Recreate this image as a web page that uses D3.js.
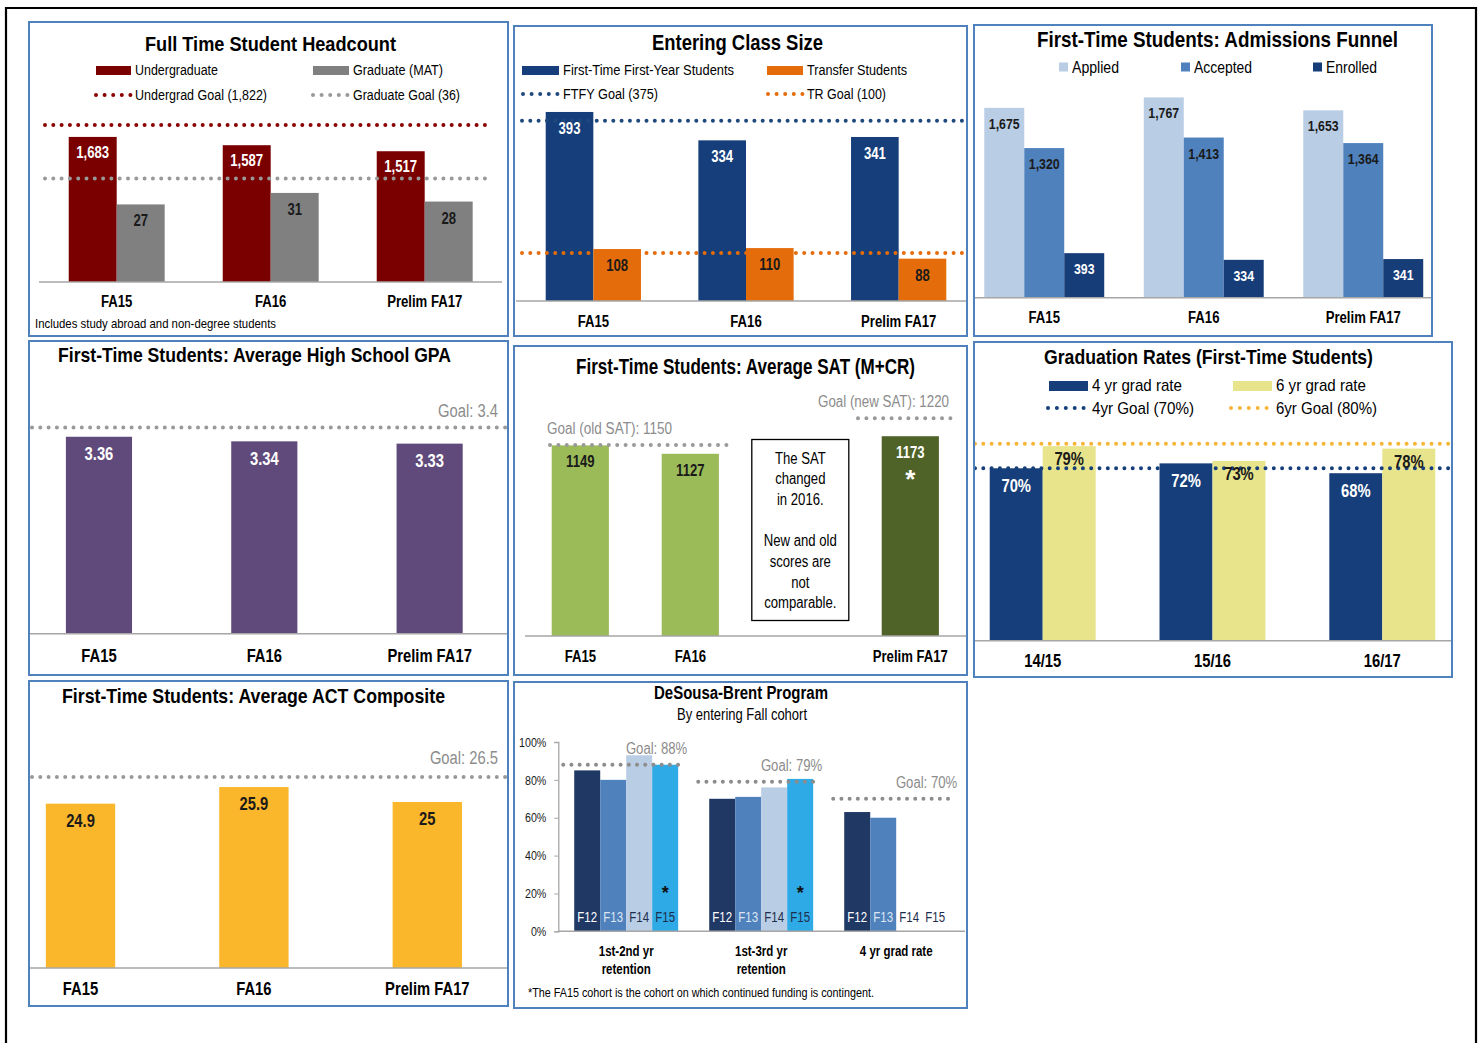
<!DOCTYPE html>
<html>
<head>
<meta charset="utf-8">
<script src="https://cdn.jsdelivr.net/npm/d3@7"></script>
<style>
  body { margin: 0; background: #fff; }
  svg text { font-family: 'Liberation Sans Narrow', 'Arial Narrow', 'Liberation Sans', sans-serif; }
</style>
</head>
<body>
<svg id="chart" width="1482" height="1043"></svg>
<script>
// ---- data ----
const fallCats = ['FA15', 'FA16', 'Prelim FA17'];

const undergrad = [1683, 1587, 1517];
const graduate = [27, 31, 28];
const undergradGoal = 1822;
const graduateGoal = 36;

const ftfy = [393, 334, 341];
const transfer = [108, 110, 88];
const ftfyGoal = 375;
const transferGoal = 100;

const applied = [1675, 1767, 1653];
const accepted = [1320, 1413, 1364];
const enrolled = [393, 334, 341];

const gpa = [3.36, 3.34, 3.33];
const gpaGoal = 3.4;

const satCats = ['FA15', 'FA16', '', 'Prelim FA17'];
const sat = [1149, 1127, null, 1173];
const satOldGoal = 1150;
const satNewGoal = 1220;
const satNote = ['The SAT', 'changed', 'in 2016.', '', 'New and old', 'scores are', 'not', 'comparable.'];

const gradCats = ['14/15', '15/16', '16/17'];
const grad4 = [70, 72, 68];
const grad6 = [79, 73, 78];
const grad4Goal = 70;
const grad6Goal = 80;

const act = [24.9, 25.9, 25];
const actGoal = 26.5;

const dbCats = ['1st-2nd yr retention', '1st-3rd yr retention', '4 yr grad rate'];
const dbCatLines = [['1st-2nd yr', 'retention'], ['1st-3rd yr', 'retention'], ['4 yr grad rate']];
const dbCohorts = ['F12', 'F13', 'F14', 'F15'];
const dbValues = [[85, 80, 93, 88], [70, 71, 76, 80.5], [63, 60, null, null]];
const dbGoals = [88, 79, 70];
const dbTicks = [0, 20, 40, 60, 80, 100];
const dbFlagged = 'F15';

// ---- helpers ----
const svg = d3.select('#chart');
const fmt = d3.format(',');

// no Arial Narrow here? then squeeze the Arial-metric fallback to narrow widths
const NARROW = (function () {
  const ctx = document.createElement('canvas').getContext('2d');
  ctx.font = "20px 'Liberation Sans Narrow', monospace";
  const a = ctx.measureText('Graduation Rates 1234').width;
  ctx.font = '20px monospace';
  const b = ctx.measureText('Graduation Rates 1234').width;
  return Math.abs(a - b) < 0.5 ? 0.82 : 1;
})();

function txt(p, s, x, y, o = {}) {
  const t = p.append('text')
    .attr('x', x).attr('y', y)
    .attr('font-size', o.size || 14)
    .attr('font-weight', o.weight || 'normal')
    .attr('fill', o.fill || '#000')
    .attr('text-anchor', o.anchor || 'start')
    .text(s);
  if (o.len) t.attr('textLength', o.len).attr('lengthAdjust', 'spacingAndGlyphs');
  return t;
}

function dots(p, x0, x1, y, color, gap = 8.3, w = 4) {
  p.append('line')
    .attr('x1', x0).attr('x2', x1).attr('y1', y).attr('y2', y)
    .attr('stroke', color).attr('stroke-width', w)
    .attr('stroke-linecap', 'round')
    .attr('stroke-dasharray', `0 ${gap}`);
}

function hline(p, x0, x1, y, color = '#a6a6a6', w = 1.5) {
  p.append('line')
    .attr('x1', x0).attr('x2', x1).attr('y1', y).attr('y2', y)
    .attr('stroke', color).attr('stroke-width', w);
}

function frame(x0, y0, x1, y1) {
  svg.append('rect')
    .attr('x', x0).attr('y', y0).attr('width', x1 - x0).attr('height', y1 - y0)
    .attr('fill', 'none').attr('stroke', '#4f81bd').attr('stroke-width', 2);
}

function band(cats, range, pad) {
  return d3.scaleBand().domain(cats).range(range).paddingInner(pad).paddingOuter(pad / 2);
}

// series: [{values, y, color, labelColor, off, fmt, size}]
function groupedBars(g, cats, x, series) {
  const sub = d3.scaleBand().domain(d3.range(series.length)).range([0, x.bandwidth()]);
  series.forEach((s, i) => {
    const rows = cats.map((c, j) => ({ c, v: s.values[j] })).filter(d => d.v != null);
    const base = s.y.range()[0];
    g.append('g').selectAll('rect').data(rows).join('rect')
      .attr('x', d => x(d.c) + sub(i))
      .attr('width', sub.bandwidth())
      .attr('y', d => s.y(d.v))
      .attr('height', d => base - s.y(d.v))
      .attr('fill', typeof s.color === 'function' ? d => s.color(d) : s.color);
    s.labelPos = rows.map(d => ({ ...d, cx: x(d.c) + sub(i) + sub.bandwidth() / 2 }));
  });
}

function barLabels(g, series) {
  series.forEach(s => {
    if (!s.labelColor) return;
    g.append('g').selectAll('text').data(s.labelPos).join('text')
      .attr('x', d => d.cx)
      .attr('y', d => s.y(d.v) + s.off)
      .attr('text-anchor', 'middle')
      .attr('font-size', s.size || 16)
      .attr('font-weight', 'bold')
      .attr('fill', typeof s.labelColor === 'function' ? d => s.labelColor(d) : s.labelColor)
      .text(d => (s.fmt || fmt)(d.v));
  });
}

function catAxis(g, x, y, size, labels) {
  const a = g.append('g').attr('transform', `translate(0,${y})`)
    .call(d3.axisBottom(x).tickSize(0).tickPadding(0).tickFormat(labels || (d => d)));
  a.select('.domain').remove();
  a.selectAll('text')
    .attr('y', 0).attr('dy', 0)
    .attr('font-size', size).attr('font-weight', 'bold').attr('fill', '#000');
}

// outer page frame
svg.append('path')
  .attr('d', 'M6,1043V8H1476V1043')
  .attr('fill', 'none').attr('stroke', '#000').attr('stroke-width', 2.2);

// ---- 1. Full Time Student Headcount ----
(function () {
  const g = svg.append('g');
  frame(29, 22, 508, 336);
  const red = '#7a0000', gray = '#808080';
  txt(g, 'Full Time Student Headcount', 145, 51, { size: 21, weight: 'bold', len: 251 });
  g.append('rect').attr('x', 96).attr('y', 66).attr('width', 35).attr('height', 9).attr('fill', red);
  txt(g, 'Undergraduate', 135, 75, { size: 14, len: 83 });
  g.append('rect').attr('x', 313).attr('y', 66).attr('width', 36).attr('height', 9).attr('fill', gray);
  txt(g, 'Graduate (MAT)', 353, 75, { size: 14, len: 90 });
  dots(g, 96, 131, 95, '#8b0000', 8.6);
  txt(g, 'Undergrad Goal (1,822)', 135, 100, { size: 14, len: 132 });
  dots(g, 313, 349, 95, '#999', 8.6);
  txt(g, 'Graduate Goal (36)', 353, 100, { size: 14, len: 107 });

  const x = band(fallCats, [39.7, 501.7], 0.377);
  const yU = d3.scaleLinear().domain([0, 2000]).range([282, 109.6]);
  const yG = d3.scaleLinear().domain([0, 60]).range([282, 109.6]);
  const series = [
    { values: undergrad, y: yU, color: red, labelColor: '#fff', off: 21 },
    { values: graduate, y: yG, color: gray, labelColor: '#1a1a1a', off: 22 }
  ];
  groupedBars(g, fallCats, x, series);
  dots(g, 45, 491, yU(undergradGoal), '#8b0000');
  dots(g, 45, 491, yG(graduateGoal), '#999');
  barLabels(g, series);
  hline(g, 39, 502, 282);
  catAxis(g, x, 307, 16);
  txt(g, 'Includes study abroad and non-degree students', 35, 328, { size: 13, len: 241 });
})();

// ---- 2. Entering Class Size ----
(function () {
  const g = svg.append('g');
  frame(514, 26, 967, 336);
  const blue = '#153e7a', orange = '#e46c0a';
  txt(g, 'Entering Class Size', 652, 50, { size: 22, weight: 'bold', len: 171 });
  g.append('rect').attr('x', 522).attr('y', 66).attr('width', 37).attr('height', 9).attr('fill', blue);
  txt(g, 'First-Time First-Year Students', 563, 75, { size: 14, len: 171 });
  g.append('rect').attr('x', 767).attr('y', 66).attr('width', 36).attr('height', 9).attr('fill', orange);
  txt(g, 'Transfer Students', 807, 75, { size: 14, len: 100 });
  dots(g, 523, 559, 94, '#1f497d', 8.6);
  txt(g, 'FTFY Goal (375)', 563, 99, { size: 14, len: 95 });
  dots(g, 768, 803, 94, orange, 8.6);
  txt(g, 'TR Goal (100)', 807, 99, { size: 14, len: 79 });

  const x = band(fallCats, [517, 975], 0.376);
  const y = d3.scaleLinear().domain([0, 400]).range([301, 108.6]);
  const series = [
    { values: ftfy, y, color: blue, labelColor: '#fff', off: 22 },
    { values: transfer, y, color: orange, labelColor: '#1a1a1a', off: 22 }
  ];
  groupedBars(g, fallCats, x, series);
  dots(g, 522, 965, y(ftfyGoal), '#1f497d');
  dots(g, 522, 965, y(transferGoal), orange);
  barLabels(g, series);
  hline(g, 516, 966, 301);
  catAxis(g, x, 327, 16);
})();

// ---- 3. Admissions Funnel ----
(function () {
  const g = svg.append('g');
  frame(974, 25, 1432, 336);
  const cA = '#b9cde5', cB = '#4f81bd', cC = '#173d78';
  txt(g, 'First-Time Students: Admissions Funnel', 1037, 47, { size: 22, weight: 'bold', len: 361 });
  [[1059, cA, 'Applied', 47], [1181, cB, 'Accepted', 58], [1313, cC, 'Enrolled', 51]].forEach(([lx, c, s, w]) => {
    g.append('rect').attr('x', lx).attr('y', 62.5).attr('width', 9).attr('height', 9).attr('fill', c);
    txt(g, s, lx + 13, 73, { size: 16, len: w });
  });
  const x = band(fallCats, [964.5, 1443], 0.248);
  const y = d3.scaleLinear().domain([0, 2000]).range([297.7, 71]);
  const series = [
    { values: applied, y, color: cA, labelColor: '#1a1a1a', off: 21, size: 15 },
    { values: accepted, y, color: cB, labelColor: '#1a1a1a', off: 21, size: 15 },
    { values: enrolled, y, color: cC, labelColor: '#fff', off: 21, size: 15 }
  ];
  groupedBars(g, fallCats, x, series);
  barLabels(g, series);
  hline(g, 975, 1431, 297.7);
  catAxis(g, x, 323, 16);
})();

// ---- single bar panel with a goal (GPA, ACT) ----
function goalPanel(box, title, titleX, titleY, titleLen, values, goal, goalText, goalTextY, dom, yr, xr, color, labelColor, off, catY, nfmt) {
  const g = svg.append('g');
  frame(...box);
  txt(g, title, titleX, titleY, { size: 21, weight: 'bold', len: titleLen });
  const x = band(fallCats, xr, 0.6);
  const y = d3.scaleLinear().domain(dom).range(yr);
  const series = [{ values, y, color, labelColor, off, size: 18, fmt: nfmt }];
  groupedBars(g, fallCats, x, series);
  dots(g, box[0] + 3, box[2], y(goal), '#999');
  txt(g, goalText, box[2] - 10, goalTextY, { size: 18, fill: '#8c8c8c', anchor: 'end' });
  barLabels(g, series);
  hline(g, box[0], box[2], yr[0]);
  catAxis(g, x, catY, 18);
}

// ---- 4. GPA ----
goalPanel([29, 341, 508, 675], 'First-Time Students: Average High School GPA', 58, 362, 393,
  gpa, gpaGoal, 'Goal: 3.4', 416.5, [2.5, 3.5], [633.7, 404.7], [16.3, 512.3],
  '#604a7b', '#fff', 23.5, 662, d3.format('.2f'));

// ---- 7. ACT ----
goalPanel([29, 681, 508, 1006], 'First-Time Students: Average ACT Composite', 62, 703, 383,
  act, actGoal, 'Goal: 26.5', 763.5, [15, 27], [968, 768.8], [-6.2, 514],
  '#fab72b', '#1a1a1a', 23, 995, d => d);

// ---- 5. SAT ----
(function () {
  const g = svg.append('g');
  frame(514, 346, 967, 675);
  const light = '#9bbb59', dark = '#4f6228';
  txt(g, 'First-Time Students: Average SAT (M+CR)', 576, 373.5, { size: 22, weight: 'bold', len: 339 });
  const x = band(satCats, [525.3, 965.3], 0.48);
  const y = d3.scaleLinear().domain([650, 1250]).range([636, 406.8]);
  const isNew = d => d.c === 'Prelim FA17';
  const series = [{
    values: sat, y,
    color: d => isNew(d) ? dark : light,
    labelColor: d => isNew(d) ? '#fff' : '#1a1a1a',
    off: 22, size: 16, fmt: d => d
  }];
  groupedBars(g, satCats, x, series);
  dots(g, 550, 728, y(satOldGoal), '#999', 8.4);
  dots(g, 858, 957, y(satNewGoal), '#999', 8.4);
  txt(g, 'Goal (old SAT): 1150', 547, 434, { size: 16, fill: '#8c8c8c', len: 125 });
  txt(g, 'Goal (new SAT): 1220', 818, 406.5, { size: 16, fill: '#8c8c8c', len: 131 });
  barLabels(g, series);
  const last = satCats[3];
  txt(g, '*', x(last) + x.bandwidth() / 2, y(sat[3]) + 52, { size: 26, weight: 'bold', fill: '#fff', anchor: 'middle' });

  const nx = x(satCats[2]) + x.bandwidth() / 2;
  g.append('rect').attr('x', nx - 48.5).attr('y', 439.5).attr('width', 97).attr('height', 181)
    .attr('fill', '#fff').attr('stroke', '#000').attr('stroke-width', 1.3);
  satNote.forEach((s, i) => {
    txt(g, s, nx, 463.5 + i * 20.7, { size: 16, anchor: 'middle' });
  });
  hline(g, 525, 966, 636);
  catAxis(g, x, 662, 16);
})();

// ---- 6. Graduation Rates ----
(function () {
  const g = svg.append('g');
  frame(974, 342, 1452, 677);
  const navy = '#153e7a', yellow = '#e8e48c', gold = '#f7b538';
  txt(g, 'Graduation Rates (First-Time Students)', 1044, 364, { size: 21, weight: 'bold', len: 329 });
  g.append('rect').attr('x', 1049).attr('y', 381).attr('width', 39).attr('height', 10).attr('fill', navy);
  txt(g, '4 yr grad rate', 1092, 391, { size: 17, len: 90 });
  g.append('rect').attr('x', 1233).attr('y', 381).attr('width', 39).attr('height', 10).attr('fill', yellow);
  txt(g, '6 yr grad rate', 1276, 391, { size: 17, len: 90 });
  dots(g, 1048, 1088, 408, navy, 8.9);
  txt(g, '4yr Goal (70%)', 1092, 414, { size: 17, len: 102 });
  dots(g, 1231, 1271, 408, gold, 8.9);
  txt(g, '6yr Goal (80%)', 1276, 414, { size: 17, len: 101 });

  const x = band(gradCats, [957.8, 1467.2], 0.376);
  const y = d3.scaleLinear().domain([0, 100]).range([640.7, 394.4]);
  const pct = d => d + '%';
  const series = [
    { values: grad4, y, color: navy, labelColor: '#fff', off: 24, size: 18, fmt: pct },
    { values: grad6, y, color: yellow, labelColor: '#1a1a1a', off: 19, size: 18, fmt: pct }
  ];
  groupedBars(g, gradCats, x, series);
  dots(g, 975, 1451, y(grad6Goal), gold);
  dots(g, 975, 1451, y(grad4Goal), navy);
  barLabels(g, series);
  hline(g, 975, 1451, 640.7);
  catAxis(g, x, 667, 18);
})();

// ---- 8. DeSousa-Brent Program ----
(function () {
  const g = svg.append('g');
  frame(514, 682, 967, 1008);
  const colors = ['#1f3864', '#4f81bd', '#b9cde5', '#2eaae6'];
  const labelColors = ['#fff', '#dce6f2', '#1f2d4d', '#1f2d4d'];
  txt(g, 'DeSousa-Brent Program', 654, 698.5, { size: 18, weight: 'bold', len: 174 });
  txt(g, 'By entering Fall cohort', 677, 719.5, { size: 16, len: 130 });

  const x = band(dbCats, [558.7, 963.7], 0.23);
  const y = d3.scaleLinear().domain([0, 100]).range([931.3, 742]);
  const sub = d3.scaleBand().domain(dbCohorts).range([0, x.bandwidth()]);

  const ya = g.append('g').attr('transform', 'translate(558.3,0)')
    .call(d3.axisLeft(y).tickValues(dbTicks).tickSize(4).tickPadding(8).tickFormat(d => d + '%'));
  ya.select('.domain').attr('stroke', '#a6a6a6').attr('stroke-width', 1.3);
  ya.selectAll('.tick line').attr('stroke', '#a6a6a6');
  ya.selectAll('text').attr('font-size', 13).attr('fill', '#1a1a1a');

  const rows = [];
  dbCats.forEach((c, i) => dbCohorts.forEach((k, j) => rows.push({ c, k, j, i, v: dbValues[i][j] })));

  g.append('g').selectAll('rect').data(rows.filter(d => d.v != null)).join('rect')
    .attr('x', d => x(d.c) + sub(d.k))
    .attr('width', sub.bandwidth())
    .attr('y', d => y(d.v))
    .attr('height', d => y(0) - y(d.v))
    .attr('fill', d => colors[d.j]);

  dbCats.forEach((c, i) => {
    const x0 = x(c) - 11, x1 = x(c) + x.bandwidth() + 8;
    dots(g, x0, x1, y(dbGoals[i]), '#8c8c8c', 8.2);
    txt(g, `Goal: ${dbGoals[i]}%`, x1 + 1, y(dbGoals[i]) - 11, { size: 16, fill: '#8c8c8c', anchor: 'end' });
  });

  g.append('g').selectAll('text').data(rows).join('text')
    .attr('x', d => x(d.c) + sub(d.k) + sub.bandwidth() / 2)
    .attr('y', 922)
    .attr('text-anchor', 'middle')
    .attr('font-size', 14)
    .attr('fill', d => d.v == null ? '#1f2d4d' : labelColors[d.j])
    .text(d => d.k);

  g.append('g').selectAll('text').data(rows.filter(d => d.v != null && d.k === dbFlagged)).join('text')
    .attr('x', d => x(d.c) + sub(d.k) + sub.bandwidth() / 2)
    .attr('y', 899)
    .attr('text-anchor', 'middle')
    .attr('font-size', 18)
    .attr('font-weight', 'bold')
    .attr('fill', '#111')
    .text('*');

  hline(g, 558.3, 965, 931.3);

  dbCats.forEach((c, i) => {
    dbCatLines[i].forEach((s, k) => {
      txt(g, s, x(c) + x.bandwidth() / 2, 956 + k * 18, { size: 14, weight: 'bold', anchor: 'middle' });
    });
  });
  txt(g, '*The FA15 cohort is the cohort on which continued funding is contingent.', 528, 996.5, { size: 13, len: 346 });
})();

// squeeze free-width labels to the narrow face
if (NARROW !== 1) {
  svg.selectAll('text').each(function () {
    if (this.getAttribute('textLength') || this.textContent === '*') return;
    const w = this.getComputedTextLength();
    if (w > 0) d3.select(this).attr('textLength', w * NARROW).attr('lengthAdjust', 'spacingAndGlyphs');
  });
}
</script>
</body>
</html>
